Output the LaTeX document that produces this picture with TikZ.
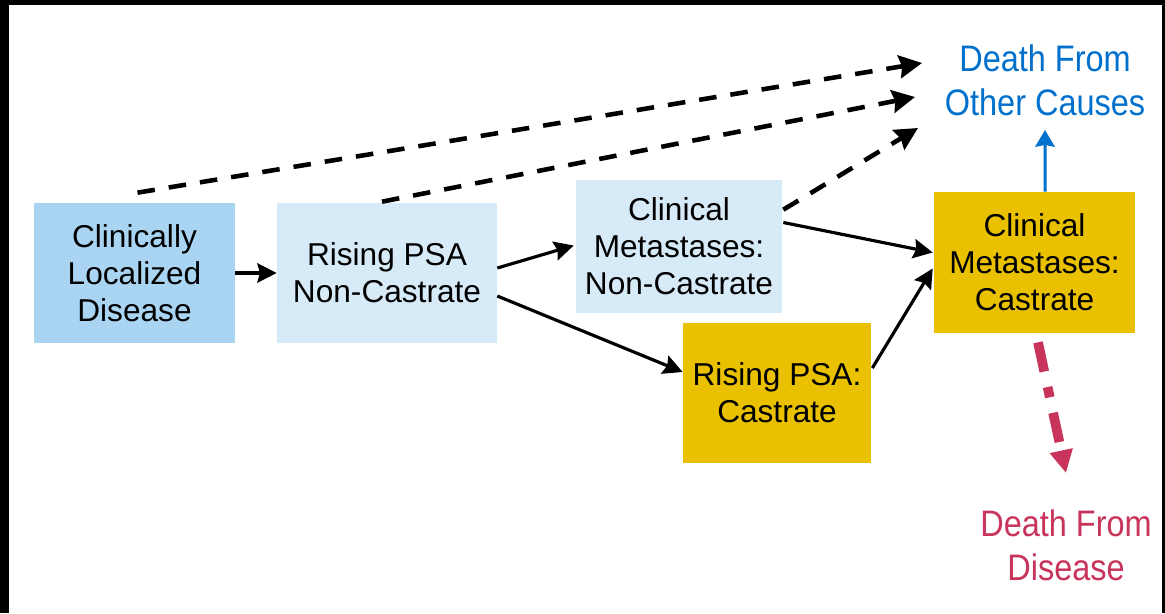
\documentclass[tikz,border=0pt]{standalone}
\usepackage{fontspec}
\setmainfont{Liberation Sans}
\newfontfamily\narrowfont[FakeStretch=0.88]{Liberation Sans}
\usepackage{xcolor}
\usetikzlibrary{arrows.meta,calc,positioning}

\definecolor{paleblue}{RGB}{169,213,243}
\definecolor{lightblue}{RGB}{214,234,248}
\definecolor{castrategold}{RGB}{233,193,0}
\definecolor{otherblue}{RGB}{0,112,205}
\definecolor{diseasered}{RGB}{200,52,92}

\begin{document}
\begin{tikzpicture}[x=0.02cm, y=-0.02cm,
        % Styles for states and transitions
        state/.style={inner sep=0pt, align=center, minimum height=2.8cm, font=\fontsize{18}{21}\selectfont},
        localized/.style={state, fill=paleblue},
        noncastrate/.style={state, fill=lightblue},
        castrate/.style={state, fill=castrategold},
        outcome/.style={align=center, inner sep=0pt, font=\narrowfont\fontsize{21}{25}\selectfont},
        arrow/.style={-{Stealth[length=11pt, width=11pt, inset=1.5pt]}, line width=1.8pt},
        dasharrow/.style={-{Stealth[length=13pt, width=13pt, inset=1.5pt]}, line width=2.6pt, dash pattern=on 10pt off 8pt},
        otherarrow/.style={-{Stealth[length=9.5pt, width=11pt, inset=1pt]}, line width=1.7pt, draw=otherblue},
        diseasearrow/.style={-{Triangle[length=13pt, width=12.5pt]}, line width=5.5pt, draw=diseasered, dash pattern=on 17pt off 9pt on 6pt off 9pt}
      ]

      % Frame of the slide
      \useasboundingbox (0,0) rectangle (1165,613);
      \fill[white] (0,0) rectangle (1165,613);
      \fill[black] (0,0) rectangle (1165,5);
      \fill[black] (0,0) rectangle (9,613);
      \fill[black] (1162,0) rectangle (1165,613);

      % Disease states
      \node[localized, minimum width=4.02cm] (local) at (134.5,273) {Clinically\\Localized\\Disease};
      \node[noncastrate, minimum width=4.4cm] (risingnc) at (387,273) {Rising PSA\\Non-Castrate};
      \node[noncastrate, minimum width=4.12cm, minimum height=2.66cm] (metnc) at (679,246.5) {Clinical\\Metastases:\\Non-Castrate};
      \node[castrate, minimum width=3.76cm] (risingc) at (777,393) {Rising PSA:\\Castrate};
      \node[castrate, minimum width=4.02cm, minimum height=2.82cm] (metc) at (1034.5,262.5) {Clinical\\Metastases:\\Castrate};

      % Outcomes
      \node[outcome, text=otherblue] (othercauses) at (1045,80) {Death From\\Other Causes};
      \node[outcome, text=diseasered] (disease) at (1066,545) {Death From\\Disease};

      % Free ends of the arrows near the outcomes
      \coordinate (tipA) at (922,63);
      \coordinate (tipB) at (915,97);
      \coordinate (tipC) at (918,128);
      \coordinate (othertip) at (1045,130);
      \coordinate (diseasetip) at (1066,473);

      % Progression between states
      \draw[arrow] (local) -- (risingnc);
      \draw[arrow] ($(risingnc.east)+(0,-5)$) -- ($(metnc.west)+(-2,-1)$);
      \draw[arrow] ($(risingnc.east)+(0,23)$) -- ($(risingc.west)+(0,-21)$);
      \draw[arrow] ($(metnc.east)+(1,-24)$) -- ($(metc.west)+(-1,-10)$);
      \draw[arrow] ($(risingc.east)+(1,-25)$) -- ($(metc.west)+(-1,6)$);

      % Death from other causes
      \draw[dasharrow] ($(local.north)+(3,-10)$) -- (tipA);
      \draw[dasharrow] ($(risingnc.north)+(-5,-1)$) -- (tipB);
      \draw[dasharrow] ($(metnc.north east)+(1,30)$) -- (tipC);
      \draw[otherarrow] ($(metc.north)+(10.5,0)$) -- (othertip);

      % Death from disease
      \draw[diseasearrow] ($(metc.south)+(3.5,9)$) -- (diseasetip);

    \end{tikzpicture}
\end{document}
